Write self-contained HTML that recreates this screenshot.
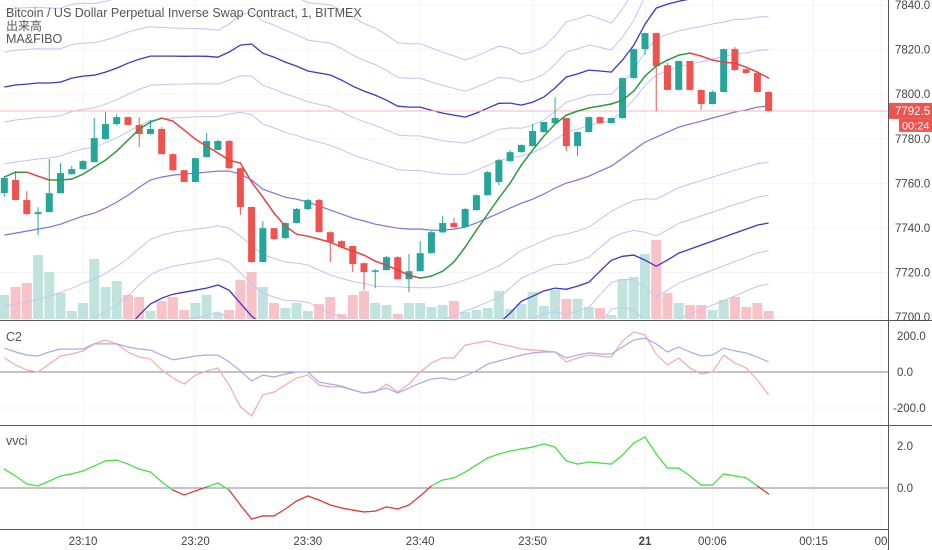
<!DOCTYPE html>
<html><head><meta charset="utf-8"><style>
html,body{margin:0;padding:0;background:#fff;width:932px;height:550px;overflow:hidden}
svg{display:block}
text{font-family:"Liberation Sans","Noto Sans CJK JP",sans-serif}
</style></head><body>
<svg id="chart" width="932" height="550" xmlns="http://www.w3.org/2000/svg">
<g id="grid"></g>
<clipPath id="mainClip"><rect x="0" y="0" width="888" height="319"/></clipPath>
<g id="vol" clip-path="url(#mainClip)"></g>
<g id="bands" clip-path="url(#mainClip)"></g>
<line x1="0" x2="888" y1="111" y2="111" stroke="#f7b8bc" stroke-width="1"/>
<g id="candles"></g>
<g id="ma"></g>
<g id="c2"></g>
<g id="vv"></g>
<g id="axes"></g>
<text x="6" y="17" font-size="12.5" fill="#555">Bitcoin / US Dollar Perpetual Inverse Swap Contract, 1, BITMEX</text>
<text x="6" y="30" font-size="12" fill="#555">出来高</text>
<text x="6" y="43" font-size="12.5" fill="#555">MA&amp;FIBO</text>
<text x="6" y="341" font-size="12.5" fill="#555">C2</text>
<text x="6" y="445" font-size="12.5" fill="#555">vvci</text>
</svg>
<script>
const opens=[7755.6,7761.5,7752.5,7746.2,7747.1,7755.6,7764.1,7766.4,7769.5,7779.9,7786.6,7789.7,7786.2,7782.1,7784.4,7773.1,7765.9,7760.6,7771.8,7775,7779,7766.8,7749.4,7724.7,7739.9,7735.5,7742.2,7748.5,7752.5,7738.1,7734.1,7731.9,7724.2,7720.6,7721.1,7726.9,7717.0,7720.6,7728.7,7738,7742.2,7740.4,7748,7754.7,7760.6,7770,7774,7776.7,7783,7787,7789.3,7776.7,7783,7789.7,7787,7789.3,7807.2,7820.2,7827.4,7813,7801.9,7814.9,7801.9,7795.6,7801,7820.2,7811.2,7809.5,7801];
const closes=[7762.4,7752.5,7746.2,7747.1,7755.6,7764.6,7766.4,7770,7780.3,7786.6,7789.7,7786.2,7782.1,7784.4,7773.1,7765.9,7760.6,7771.3,7779,7779,7766.8,7749.4,7724.7,7739.9,7735,7742.2,7748.5,7752.5,7738.1,7733.6,7731.4,7723.8,7720.2,7721.0,7726.9,7717.0,7720.6,7728.7,7738.1,7742.2,7740.4,7748.5,7754.7,7765.0,7770.4,7774,7777.2,7783.5,7787.5,7789.3,7776.7,7783,7789.7,7787,7789.3,7807.2,7820.2,7827.4,7812.6,7801.9,7814.9,7801.9,7795.6,7801,7820.2,7810.8,7809.5,7801,7792.5];
const highs=[7763,7765.5,7756.5,7749.3,7770.9,7769,7767.8,7770.5,7789.3,7792,7791,7790,7789.7,7788.4,7785.3,7773.5,7766,7771.5,7782.6,7779.5,7779.5,7767,7749.5,7743.1,7740,7742.5,7749,7753,7753,7738.5,7734.5,7732,7724.5,7721.5,7727.4,7727.4,7728.3,7734.1,7738.5,7745.3,7744.4,7749,7755,7765.5,7771,7775,7777.5,7786.6,7787.5,7798.7,7789.5,7783.3,7790,7790,7789.5,7807.5,7820.5,7827.6,7827.6,7814,7815,7815,7802,7801.6,7820.5,7821.1,7811.5,7809.8,7801.2];
const lows=[7754,7752.5,7746,7736.8,7747,7755.5,7764,7766,7769.5,7779.5,7786,7786,7776.3,7782,7773,7765.5,7760.5,7760.5,7771.5,7775,7766.5,7745.8,7724.5,7724.5,7734.5,7735,7742,7748,7738,7724.7,7731,7720.2,7712.1,7713,7721,7716.8,7711.2,7720.5,7728.5,7737.8,7740,7740,7747.8,7754.5,7759.2,7769.5,7773.8,7776.5,7782.8,7786.8,7774.5,7772.2,7782.8,7786.8,7786.8,7789,7807,7817.6,7792.4,7801.7,7801.7,7801.7,7792.9,7795.4,7800.8,7810.5,7809.2,7800.8,7792.3];
const volumes=[24,32,36,64,47,26,8,16,60,32,38,24,22,8,18,22,9,16,24,6,9,39,47,32,16,11,16,8,15,22,5,24,28,16,14,5,16,16,12,14,18,7,9,11,28,10,15,27,13,29,20,20,12,11,4,40,42,65,79,26,16,14,14,9,19,22,12,16,8];
const maLine=[7762.8,7765.0,7765.0,7763.2,7761.5,7761.5,7761.9,7764.1,7767.3,7770.4,7774.5,7779.4,7784.3,7787.5,7789.3,7787.9,7783.9,7779.8,7776.7,7773.6,7770.4,7769.1,7760.6,7753.8,7746.6,7740.8,7737.2,7736.3,7735.0,7733.6,7731.4,7729.6,7727.8,7725.1,7723.3,7721.1,7718.8,7717.5,7718.4,7720.6,7724.7,7731.4,7739.0,7746.2,7753.4,7760.1,7768.2,7774.9,7781.2,7786.6,7790.6,7792.4,7793.8,7794.7,7795.6,7797.3,7801.4,7808.1,7812.6,7815.3,7817.5,7818.4,7817.1,7815.3,7814.4,7813.9,7812.1,7809.9,7807.2];
const fiboMid=[7736.8,7737.7,7738.6,7739.5,7740.4,7741.7,7743.5,7745.3,7746.6,7748.9,7751.6,7754.7,7758.3,7761.5,7762.8,7763.7,7764.1,7764.6,7765.0,7765.5,7765.5,7764.1,7761.5,7757.4,7755.6,7753.8,7752.9,7751.6,7749.8,7748.0,7746.2,7744.4,7743.1,7741.7,7740.8,7739.9,7739.5,7739.5,7739.0,7739.0,7739.5,7740.4,7742.2,7744.4,7746.6,7748.9,7751.1,7752.9,7755.2,7757.9,7760.1,7761.5,7763.2,7765.5,7767.7,7771.3,7774.9,7778.5,7780.7,7783.0,7785.2,7786.6,7787.9,7789.3,7790.6,7792.0,7792.9,7794.2,7794.7];
const fiboDev=[66.4,66.4,65.9,65.5,64.6,63.7,63.7,62.8,61.9,61.0,60.1,59.2,57.4,55.6,54.3,53.4,52.9,52.5,52.0,51.1,53.4,57.9,61.0,61.0,61.0,60.6,59.7,58.8,59.7,60.6,60.1,59.2,58.3,57.9,56.5,54.7,54.7,54.7,53.8,52.5,51.1,49.3,49.3,49.3,49.3,47.1,44.0,43.5,43.5,44.9,47.6,47.6,47.6,44.9,42.2,44.0,47.1,52.9,57.9,57.4,56.5,56.1,55.6,55.2,54.7,54.3,53.4,52.9,52.5];
const c2Fast=[78,39,11,0,44,89,100,117,156,178,156,111,83,72,11,-33,-67,-17,6,22,-72,-194,-244,-128,-111,-72,-33,-17,-72,-83,-83,-100,-117,-111,-67,-111,-67,0,50,78,78,150,161,172,156,144,128,122,117,111,56,78,94,89,83,172,222,206,100,39,78,22,-11,0,94,50,22,-44,-128];
const c2Slow=[133,111,94,89,111,128,128,128,156,156,156,139,128,122,94,67,78,89,94,94,56,6,-50,-17,-28,-11,0,0,-56,-67,-78,-100,-117,-106,-89,-117,-89,-61,-39,-33,-44,-22,6,44,61,78,94,106,111,111,78,94,106,100,100,139,178,189,156,111,139,111,89,94,133,117,106,83,56];
const vvciValues=[0.90,0.57,0.19,0.10,0.33,0.57,0.67,0.81,1.05,1.29,1.33,1.14,0.90,0.76,0.29,-0.10,-0.33,-0.14,0.05,0.24,-0.10,-0.81,-1.48,-1.33,-1.33,-1.00,-0.62,-0.38,-0.57,-0.81,-0.95,-1.05,-1.14,-1.10,-0.90,-1.00,-0.81,-0.38,0.10,0.38,0.48,0.76,1.10,1.43,1.62,1.76,1.86,1.95,2.10,1.95,1.29,1.14,1.24,1.19,1.14,1.57,2.14,2.43,1.62,0.95,0.95,0.57,0.14,0.14,0.67,0.57,0.48,0.10,-0.29];
const priceTicks=[7840,7820,7800,7780,7760,7740,7720,7700];
const c2Ticks=[200,0,-200];
const vvciTicks=[2,0];
const timeTicks=["23:10","23:20","23:30","23:40","23:50","21","00:06","00:15","00"];
const timeTickMinutes=[-50,-40,-30,-20,-10,0,6,15,21];
const firstMinute=-57;

const NS="http://www.w3.org/2000/svg";
function mk(tag,attrs,parent){const e=document.createElementNS(NS,tag);for(const k in attrs)e.setAttribute(k,attrs[k]);parent.appendChild(e);return e;}
const xOfMinute=m=>645+m*11.24;
const xOf=i=>xOfMinute(firstMinute+i);
const yP=p=>5+(7840-p)*2.2295;
const yV=v=>319-v;
const yC2=v=>372-v*0.18;
const yVV=v=>488-v*21;
const $=id=>document.getElementById(id);

const grid=$("grid");
priceTicks.forEach(t=>{const l=mk("line",{x1:0,x2:888,y1:yP(t),y2:yP(t),stroke:"#f2f4fa"},grid);

});
timeTickMinutes.forEach(m=>{const l=mk("line",{x1:xOfMinute(m),x2:xOfMinute(m),y1:0,y2:529,stroke:"#f2f4fa"},grid);

});
mk("line",{x1:0,x2:888,y1:yC2(-200),y2:yC2(-200),stroke:"#f0f3fa"},grid);

const vol=$("vol");
volumes.forEach((v,i)=>{const up=closes[i]>=opens[i];
const r=mk("rect",{x:xOf(i)-5,y:yV(v),width:10,height:v,fill:up?"#c0e4dd":"#f7c2c8"},vol);

});

const bands=$("bands");
const levels=[[0,"#7b74e0",1.2],[1,"#3f36c8",1.3],[-1,"#3f36c8",1.3],[1.236,"#c3c3f4",1],[0.764,"#c3c3f4",1],[1.52,"#c3c3f4",1],[0.48,"#c3c3f4",1],[-1.236,"#c3c3f4",1],[-0.764,"#c3c3f4",1],[-1.52,"#c3c3f4",1],[-0.48,"#c3c3f4",1]];
levels.forEach(([k,c,w])=>{const pts=fiboMid.map((m,i)=>xOf(i).toFixed(1)+","+yP(m-k*fiboDev[i]).toFixed(1)).join(" ");
const pl=mk("polyline",{points:pts,fill:"none",stroke:c,"stroke-width":w},bands);

});

const cg=$("candles");
opens.forEach((o,i)=>{const c=closes[i],up=c>=o,col=up?"#26a69a":"#ef5350",x=xOf(i);
const g=mk("g",{},cg);


mk("line",{x1:x,x2:x,y1:yP(highs[i]),y2:yP(lows[i]),stroke:col,"stroke-width":1},g);
const t=Math.min(yP(o),yP(c)),h=Math.max(1.5,Math.abs(yP(o)-yP(c)));
mk("rect",{x:x-3.5,y:t,width:7,height:h,fill:col},g);});

const mg=$("ma");
for(let i=0;i<maLine.length-1;i++){const up=maLine[i+1]>=maLine[i];
const l=mk("line",{x1:xOf(i),y1:yP(maLine[i]),x2:xOf(i+1),y2:yP(maLine[i+1]),stroke:up?"#2f9a3c":"#e8403c","stroke-width":1.5,"stroke-linecap":"round"},mg);

}

const c2=$("c2");
mk("line",{x1:0,x2:888,y1:yC2(0),y2:yC2(0),stroke:"#888"},c2);
[[c2Fast,"#f4a9ad","c2-fast-line"],[c2Slow,"#a9a9f0","c2-slow-line"]].forEach(([arr,col,nm])=>{
const pl=mk("polyline",{points:arr.map((v,i)=>xOf(i).toFixed(1)+","+yC2(v).toFixed(1)).join(" "),fill:"none",stroke:col,"stroke-width":1.2},c2);

});

const vv=$("vv");
mk("line",{x1:0,x2:888,y1:yVV(0),y2:yVV(0),stroke:"#888"},vv);
for(let i=0;i<vvciValues.length-1;i++){const g=(vvciValues[i]+vvciValues[i+1])/2>0;
const l=mk("line",{x1:xOf(i),y1:yVV(vvciValues[i]),x2:xOf(i+1),y2:yVV(vvciValues[i+1]),stroke:g?"#47e047":"#e03a3a","stroke-width":1.3,"stroke-linecap":"round"},vv);

}

const ax=$("axes");
mk("line",{x1:888.5,x2:888.5,y1:0,y2:550,stroke:"#555"},ax);
[320.5,425.5].forEach(y=>mk("line",{x1:0,x2:932,y1:y,y2:y,stroke:"#555"},ax));
mk("line",{x1:0,x2:888,y1:529.5,y2:529.5,stroke:"#555"},ax);
priceTicks.forEach(t=>{const tx=mk("text",{x:895,y:yP(t)+4,"font-size":11.5,fill:"#444"},ax);tx.textContent=t.toFixed(1);

});
c2Ticks.forEach(t=>{const tx=mk("text",{x:t<0?893:897,y:yC2(t)+4,"font-size":11.5,fill:"#444"},ax);tx.textContent=t.toFixed(1);

});
vvciTicks.forEach(t=>{const tx=mk("text",{x:897,y:yVV(t)+4,"font-size":11.5,fill:"#444"},ax);tx.textContent=t.toFixed(1);

});
timeTicks.forEach((t,i)=>{const tx=mk("text",{x:xOfMinute(timeTickMinutes[i]),y:545,"font-size":11.5,fill:"#444","text-anchor":"middle","font-weight":t==="21"?"bold":"normal"},ax);tx.textContent=t;

});
const lastY=yP(closes[closes.length-1]);
const pb=mk("rect",{x:889,y:lastY-8,width:43,height:16,fill:"#ef5350"},ax);


const pt=mk("text",{x:895,y:lastY+4,"font-size":11.5,fill:"#fff"},ax);pt.textContent=closes[closes.length-1].toFixed(1);


const cb=mk("rect",{x:899,y:lastY+8,width:33,height:13,fill:"#ef5350"},ax);


const ct=mk("text",{x:902,y:lastY+18.5,"font-size":11,fill:"#fff"},ax);ct.textContent="00:24";


</script>
</body></html>
